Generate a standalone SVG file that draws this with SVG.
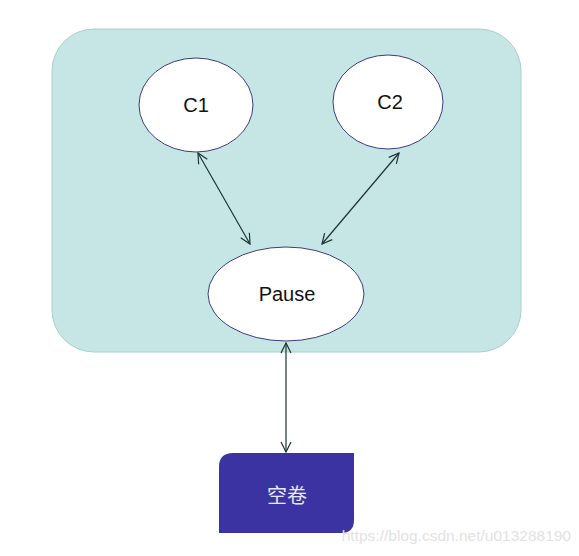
<svg xmlns="http://www.w3.org/2000/svg" width="579" height="556" viewBox="0 0 579 556">
<defs>
<style>
.node{fill:#ffffff;stroke:#3c3c7c;stroke-width:1}
.lbl{font-family:"Liberation Sans",Arial,sans-serif;font-size:20px;fill:#111;text-anchor:middle;dominant-baseline:central}
.conn{stroke:#1f3333;stroke-width:1.2;fill:none;marker-start:url(#ah);marker-end:url(#ah)}
</style>
<marker id="ah" viewBox="0 0 12 12" refX="11" refY="6" markerWidth="12" markerHeight="12" markerUnits="userSpaceOnUse" orient="auto-start-reverse">
<path d="M1,1 L11,6 L1,11" fill="none" stroke="#1f3333" stroke-width="1.2"/>
</marker>
</defs>
<rect width="579" height="556" fill="#ffffff"/>
<g id="container">
<rect x="52" y="29" width="469" height="323" rx="42" ry="42" fill="#c6e6e5" stroke="#a9cfcf" stroke-width="1"/>
</g>
<g id="connectors">
<line class="conn" x1="198" y1="153" x2="250" y2="244"/>
<line class="conn" x1="399" y1="153" x2="322" y2="244"/>
<line class="conn" x1="286" y1="343" x2="286" y2="452"/>
</g>
<g id="c1">
<ellipse class="node" cx="196" cy="105" rx="57" ry="47"/>
<text class="lbl" x="196" y="105">C1</text>
</g>
<g id="c2">
<ellipse class="node" cx="388" cy="102" rx="55" ry="47"/>
<text class="lbl" x="390" y="102">C2</text>
</g>
<g id="pause">
<ellipse class="node" cx="286" cy="294" rx="78" ry="47"/>
<text class="lbl" x="287" y="294">Pause</text>
</g>
<g id="volume">
<path d="M233,453 L354,453 L354,520 Q354,533 341,533 L219,533 L219,467 Q219,453 233,453 Z" fill="#3b33a1"/>
<text x="287" y="494" font-family="'Noto Sans CJK SC',sans-serif" font-size="20" fill="#e8e8f8" text-anchor="middle" dominant-baseline="central">空卷</text>
</g>
<text x="571" y="541" font-family="'Liberation Sans',Arial,sans-serif" font-size="15.5" fill="#e2e2e2" text-anchor="end">https://blog.csdn.net/u013288190</text>
</svg>
